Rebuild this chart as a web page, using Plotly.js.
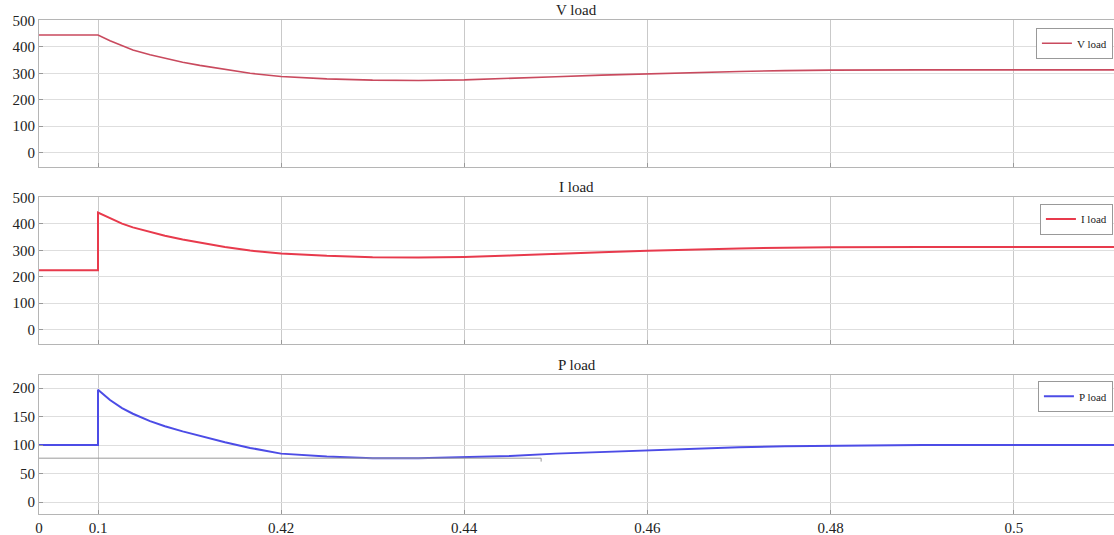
<!DOCTYPE html>
<html>
<head>
<meta charset="utf-8">
<script src="https://cdn.plot.ly/plotly-3.0.1.min.js"></script>
<style>
  html, body { margin: 0; padding: 0; background: #fff; overflow: hidden; }
  #chart { width: 1114px; height: 535px; }
</style>
</head>
<body>
<div id="chart"></div>
<script>
// Simulation time (s) and measured load quantities
const time = [0, 0.1, 0.1, 0.121, 0.142, 0.161, 0.191, 0.217, 0.248, 0.278, 0.322, 0.366, 0.42,
              0.425, 0.43, 0.435, 0.44, 0.445, 0.45, 0.455, 0.46, 0.465, 0.47, 0.475,
              0.48, 0.49, 0.50, 0.52];
const vLoad = [445, 445, 445, 423, 403, 388, 370, 356, 342, 330, 314, 300, 288,
               279, 274, 273, 275, 280, 287, 293, 298, 303, 307, 310,
               312, 313, 313, 313];
const iLoad = [225, 225, 443, 421, 401, 387, 369, 355, 341, 329, 313, 299, 288,
               279, 274, 273, 275, 280, 287, 293, 298, 303, 307, 310,
               312, 313, 313, 313];
const pLoad = [100, 100, 197, 179, 165, 155, 142, 133, 124, 116, 105, 95, 85,
               80, 77, 77, 79, 81, 85, 88, 91, 94, 96, 98,
               99, 100, 100, 100];

// Time tick labels
const xTicks = [0, 0.1, 0.42, 0.44, 0.46, 0.48, 0.5];
const xTickText = ['0', '0.1', '0.42', '0.44', '0.46', '0.48', '0.5'];
const vTicks = [0, 100, 200, 300, 400, 500];
const pTicks = [0, 50, 100, 150, 200];

// Reference cursor level on the power plot
const cursorLevel = 77;
const cursorEnd = 0.4484;

// Broken time axis: the 0-0.1 and 0.1-0.42 stretches are compressed
const breakT = [0, 0.1, 0.42, 0.52];
const breakS = [0, 59, 242, 1158];
function axisPos(t) {
  for (let k = 0; k < breakT.length - 1; k++) {
    if (t <= breakT[k + 1] || k === breakT.length - 2) {
      const f = (t - breakT[k]) / (breakT[k + 1] - breakT[k]);
      return breakS[k] + f * (breakS[k + 1] - breakS[k]);
    }
  }
}
const xs = time.map(axisPos);

const serif = 'Liberation Serif';
const tickFont = { family: serif, size: 15, color: '#222' };

function xAxis(showLabels) {
  return {
    range: [0, 1075],
    tickvals: xTicks.map(axisPos),
    ticktext: xTickText,
    showticklabels: showLabels,
    tickfont: tickFont,
    showgrid: true,
    gridcolor: '#c9c9c9',
    gridwidth: 1,
    zeroline: false,
    showline: true,
    linecolor: '#b5b5b5',
    linewidth: 1,
    mirror: true,
    ticks: 'inside',
    ticklen: 4,
    tickcolor: '#999',
    fixedrange: true
  };
}
function yAxis(domain, range, ticks, anchor) {
  return {
    domain: domain,
    range: range,
    tickvals: ticks,
    tickfont: tickFont,
    showgrid: true,
    gridcolor: '#dedede',
    gridwidth: 1,
    zeroline: false,
    showline: true,
    linecolor: '#b5b5b5',
    linewidth: 1,
    mirror: true,
    ticks: 'inside',
    ticklen: 4,
    tickcolor: '#999',
    anchor: anchor,
    fixedrange: true
  };
}

const traces = [
  { x: xs, y: vLoad, name: 'V load', type: 'scatter', mode: 'lines',
    line: { color: '#c94a5e', width: 1.6 }, xaxis: 'x', yaxis: 'y', legend: 'legend' },
  { x: xs, y: iLoad, name: 'I load', type: 'scatter', mode: 'lines',
    line: { color: '#e83a4c', width: 2 }, xaxis: 'x2', yaxis: 'y2', legend: 'legend2' },
  { x: xs, y: pLoad, name: 'P load', type: 'scatter', mode: 'lines',
    line: { color: '#4c4ce6', width: 2 }, xaxis: 'x3', yaxis: 'y3', legend: 'legend3' }
];

const dom1 = [0.6751, 0.9611];
const dom2 = [0.3307, 0.6167];
const dom3 = [0, 0.2704];

function legendAt(yTop) {
  return {
    x: 0.999, xanchor: 'right', y: yTop, yanchor: 'top',
    bgcolor: '#fff', bordercolor: '#999', borderwidth: 1,
    font: { family: serif, size: 11, color: '#222' },
    itemwidth: 30, tracegroupgap: 0
  };
}

function titleAt(text, yTop) {
  return {
    text: text, xref: 'paper', yref: 'paper', x: 0.5, y: yTop,
    xanchor: 'center', yanchor: 'bottom', yshift: 0, showarrow: false,
    font: { family: serif, size: 15, color: '#222' }
  };
}

const layout = {
  width: 1114, height: 535,
  margin: { l: 39, r: 0, t: 0, b: 21, pad: 0 },
  paper_bgcolor: '#fff', plot_bgcolor: '#fff',
  font: { family: serif },
  showlegend: true,
  xaxis: Object.assign(xAxis(false), { anchor: 'y' }),
  xaxis2: Object.assign(xAxis(false), { anchor: 'y2' }),
  xaxis3: Object.assign(xAxis(true), { anchor: 'y3' }),
  yaxis: yAxis(dom1, [-55, 502], vTicks, 'x'),
  yaxis2: yAxis(dom2, [-55, 502], vTicks, 'x2'),
  yaxis3: yAxis(dom3, [-21, 223], pTicks, 'x3'),
  legend: legendAt(0.946),
  legend2: legendAt(0.604),
  legend3: legendAt(0.259),
  annotations: [
    titleAt('V load', 0.9611),
    titleAt('I load', 0.6167),
    titleAt('P load', 0.2704)
  ],
  shapes: [
    { type: 'line', xref: 'x3', yref: 'y3',
      x0: axisPos(0), x1: axisPos(cursorEnd), y0: cursorLevel, y1: cursorLevel,
      line: { color: '#9a9a9a', width: 1 } },
    { type: 'line', xref: 'x3', yref: 'y3',
      x0: axisPos(cursorEnd), x1: axisPos(cursorEnd), y0: cursorLevel, y1: cursorLevel - 6,
      line: { color: '#9a9a9a', width: 1 } }
  ]
};

Plotly.newPlot('chart', traces, layout, { displayModeBar: false, staticPlot: true });
</script>
</body>
</html>
